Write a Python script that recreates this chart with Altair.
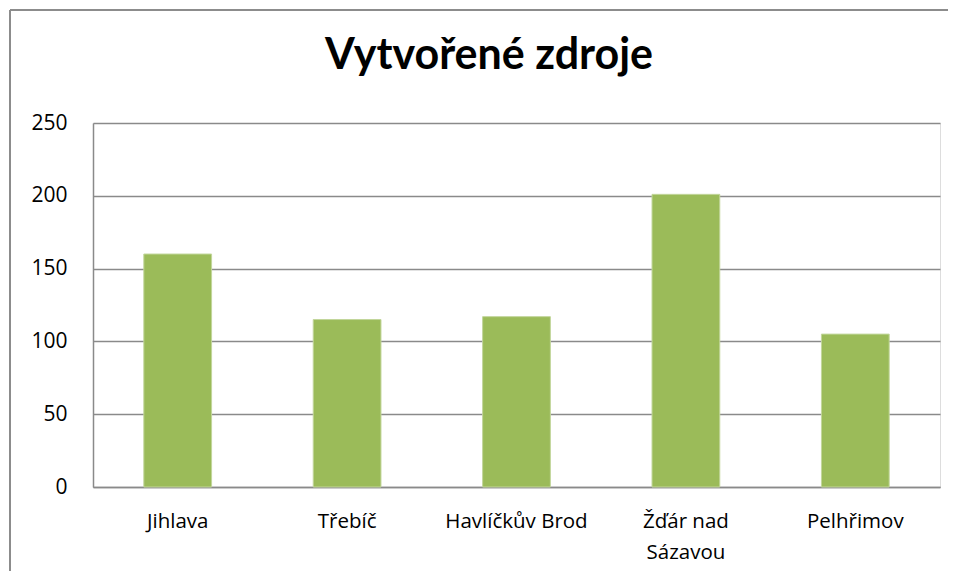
import altair as alt
import pandas as pd

categories = ["Jihlava", "Třebíč", "Havlíčkův Brod", "Žďár nad Sázavou", "Pelhřimov"]
values = [160, 115, 117, 201, 105]
y_ticks = [0, 50, 100, 150, 200, 250]
title_text = "Vytvořené zdroje"

df = pd.DataFrame({"kraj": categories, "hodnota": values})
one = pd.DataFrame({"t": [title_text]})

TFONT = "Lato"
FONT = "Open Sans"
GRID = "#8a8a8a"
FRAME = "#8c8c8c"

frame_top = alt.Chart(one).mark_rule(stroke=FRAME, strokeWidth=2).encode(
    x=alt.value(-83), x2=alt.value(1100), y=alt.value(-113),
)
frame_left = alt.Chart(one).mark_rule(stroke=FRAME, strokeWidth=2).encode(
    x=alt.value(-83), y=alt.value(-113), y2=alt.value(700),
)

title = alt.Chart(one).mark_text(
    font=TFONT, fontSize=43, fontWeight="bold", color="black",
    align="center", baseline="alphabetic",
).encode(
    x=alt.value(396), y=alt.value(-54), text="t:N"
)

bars = alt.Chart(df).mark_bar(
    color="#9BBB59", stroke="#c2d69b", strokeWidth=1
).encode(
    x=alt.X(
        "kraj:N", sort=categories, title=None,
        scale=alt.Scale(paddingInner=0.6, paddingOuter=0.3),
        axis=alt.Axis(
            labelAngle=0, ticks=False, domainColor=GRID, domainWidth=1.5,
            labelFont=FONT, labelFontSize=20.5, labelColor="black",
            labelPadding=24, labelLineHeight=31, labelLimit=300,
            labelExpr="datum.label == 'Žďár nad Sázavou' ? ['Žďár nad', 'Sázavou'] : datum.label",
        ),
    ),
    y=alt.Y(
        "hodnota:Q", title=None,
        scale=alt.Scale(domain=[0, 250], nice=False),
        axis=alt.Axis(
            values=y_ticks, ticks=False, grid=True, gridColor=GRID, gridWidth=1.5,
            domainColor=GRID, domainWidth=1.5,
            labelFont=FONT, labelFontSize=21, labelColor="black", labelPadding=26,
        ),
    ),
)

chart = alt.layer(frame_top, frame_left, title, bars).properties(
    width=847, height=364,
    padding={"left": 85, "top": 115, "right": 8, "bottom": 84},
    autosize=alt.AutoSizeParams(type="none"),
).configure_view(stroke=None).configure(background="white")

chart.save("out.html", embed_options={"renderer": "svg", "actions": False})
